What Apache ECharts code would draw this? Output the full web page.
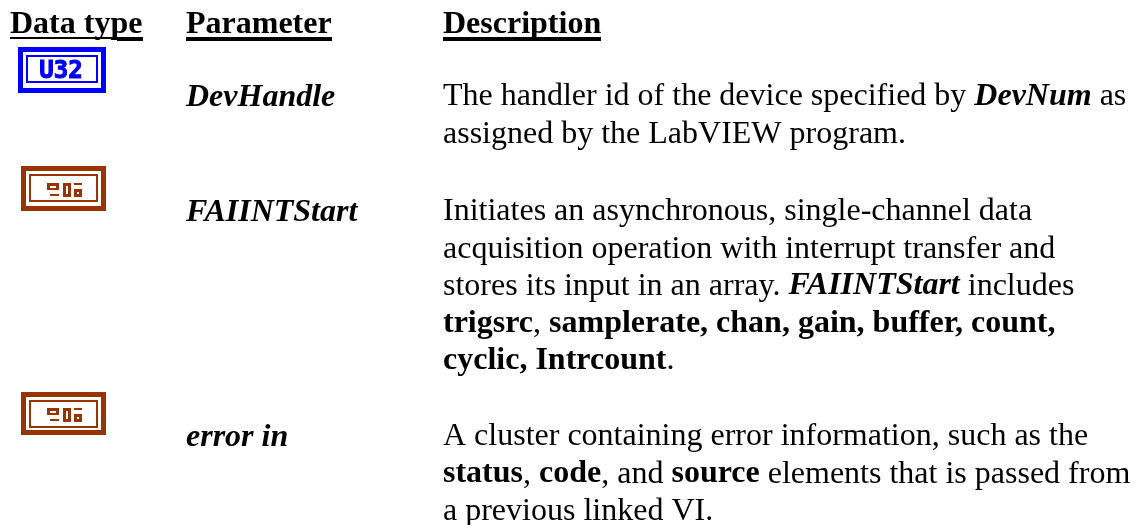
<!DOCTYPE html>
<html>
<head>
    <meta charset="utf-8">
    <title>FAIINTStart parameters</title>
    <script src="https://cdn.jsdelivr.net/npm/echarts@6/dist/echarts.min.js"></script>
    <style>html,body{margin:0;padding:0;background:#fff}</style>
</head>
<body>
    <div id="main" style="width:1140px;height:525px;"></div>
    <script type="text/javascript">
        // table content, {b|..} bold, {bi|..} bold italic
        var headers = ['Data type', 'Parameter', 'Description'];
        var parameters = ['DevHandle', 'FAIINTStart', 'error in'];
        var iconLabels = ['U32', '', ''];
        var descriptions = [
            ['The handler id of the device specified by {bi|DevNum} as',
             'assigned by the LabVIEW program.'],
            ['Initiates an asynchronous, single-channel data',
             'acquisition operation with interrupt transfer and',
             'stores its input in an array. {bi|FAIINTStart} includes',
             '{b|trigsrc}, {b|samplerate, chan, gain, buffer, count,}',
             '{b|cyclic, Intrcount}.'],
            ['A cluster containing error information, such as the',
             '{b|status}, {b|code}, and {b|source} elements that is passed from',
             'a previous linked VI.']
        ];

        var FONT = '"Liberation Serif", "Times New Roman", serif';
        var BLUE = '#0000ff', BROWN = '#993300';
        var SIZE = 32;
        var headerX = [10, 186, 443];
        var rowBase = [105, 220, 445];      // text baseline of the first line of each row
        var lineH = 37.1;
        var midOff = 8;                     // baseline to middle of the line box
        // x, y, w, h, glyph offset from top
        var iconBox = [[18, 47, 88, 46, 0], [21, 166, 85, 45, 17], [21, 392, 85, 43, 16]];

        var graphic = [];

        function addText(x, base, text, extra) {
            graphic.push({
                type: 'text', x: x, y: base - midOff,
                style: Object.assign({
                    text: text, fill: '#000', font: SIZE + 'px ' + FONT,
                    textVerticalAlign: 'middle',
                    rich: {
                        b: {font: 'bold ' + SIZE + 'px ' + FONT, fill: '#000'},
                        bi: {font: 'italic bold ' + SIZE + 'px ' + FONT, fill: '#000'}
                    }
                }, extra || {})
            });
        }
        function addRect(x, y, w, h, color) {
            graphic.push({type: 'rect', shape: {x: x, y: y, width: w, height: h}, style: {fill: color}});
        }
        function addFrame(x, y, w, h, t, color) {
            addRect(x, y, w, t, color);
            addRect(x, y + h - t, w, t, color);
            addRect(x, y, t, h, color);
            addRect(x + w - t, y, t, h, color);
        }

        // header row
        headers.forEach(function (h, i) {
            addText(headerX[i], 33, h, {font: 'bold ' + SIZE + 'px ' + FONT});
        });
        addRect(10, 37, 107, 2, '#000');
        addRect(117, 37, 26, 4, '#000');
        addRect(186, 37, 146, 4, '#000');
        addRect(443, 37, 158, 4, '#000');

        // rows
        parameters.forEach(function (p, i) {
            addText(186, rowBase[i] + 1, p, {font: 'italic bold ' + SIZE + 'px ' + FONT});
            descriptions[i].forEach(function (line, j) {
                addText(443, rowBase[i] + j * lineH, line);
            });
            var b = iconBox[i], color = i === 0 ? BLUE : BROWN;
            addFrame(b[0], b[1], b[2], b[3], 5, color);
            addFrame(b[0] + 8, b[1] + 8, b[2] - 16, 28, 2, color);
            if (iconLabels[i]) {
                graphic.push({
                    type: 'text', x: b[0] + b[2] / 2 - 1, y: 72,
                    style: {
                        text: iconLabels[i], fill: color, font: 'bold 24px "DejaVu Sans Mono", monospace',
                        stroke: color, lineWidth: 1,
                        textAlign: 'center', textVerticalAlign: 'middle'
                    }
                });
            } else {
                // pixel glyph of the numeric terminal
                var gx = b[0] + 26, gy = b[1] + b[4];
                addRect(gx, gy, 12, 3, color); addRect(gx, gy, 3, 7, color);
                addRect(gx, gy + 5, 12, 2, color); addRect(gx + 9, gy, 3, 7, color);
                addRect(gx + 3, gy + 11, 9, 2, color);
                addFrame(gx + 16, gy, 8, 14, 3, color);
                addRect(gx + 27, gy, 8, 2, color);
                addFrame(gx + 27, gy + 6, 8, 8, 3, color);
            }
        });

        var myChart = echarts.init(document.getElementById('main'));
        myChart.setOption({backgroundColor: '#fff', animation: false, graphic: graphic});
    </script>
</body>
</html>
